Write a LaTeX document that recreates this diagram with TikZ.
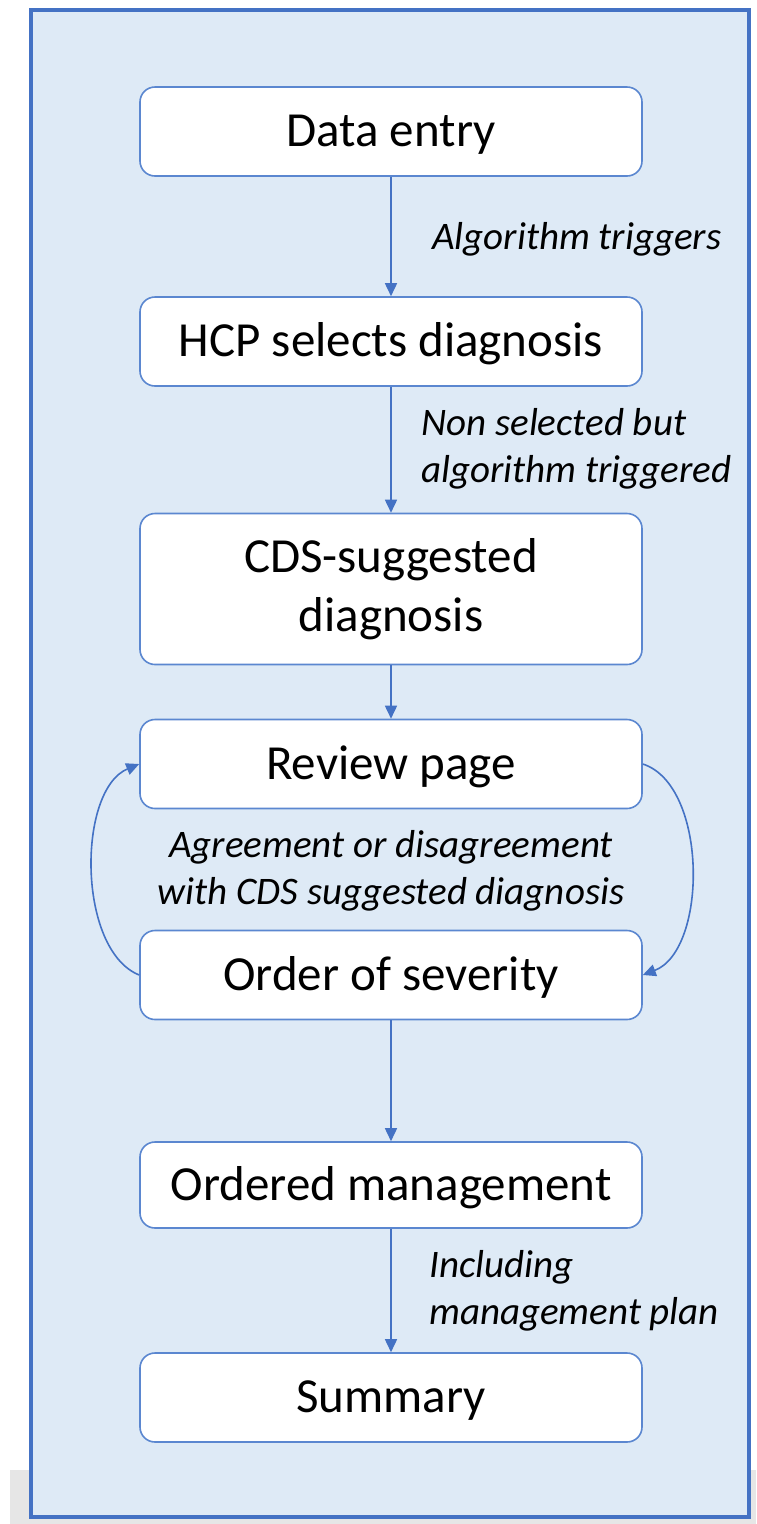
\documentclass[tikz,border=0pt]{standalone}
\usepackage{fontspec}
\setmainfont{Carlito}
\usetikzlibrary{arrows.meta}
\definecolor{frameblue}{HTML}{4472C4}
\definecolor{boxblue}{HTML}{5B87D0}
\definecolor{panelfill}{HTML}{DEEAF6}
\definecolor{shadegray}{HTML}{E6E6E6}
\begin{document}
\begin{tikzpicture}[
    x=1pt, y=-1pt,
    every node/.style={inner sep=0pt},
    stagebox/.style={draw=boxblue, line width=1.6pt, fill=white, rounded corners=15pt,
        minimum width=502pt, minimum height=89pt, align=center,
        font=\fontsize{49}{59}\selectfont},
    stageline/.style={stagebox, text height=38pt, text depth=8pt},
    flowlabel/.style={font=\fontsize{39}{47}\selectfont\itshape, align=left},
    flowarrow/.style={draw=frameblue, line width=1.6pt, -{Triangle[length=13pt, width=12pt]}},
]
\useasboundingbox (0,0) rectangle (756,1524);

% Background and panel
\fill[shadegray] (10,1470) rectangle (756,1524);
\filldraw[fill=panelfill, draw=frameblue, line width=4pt] (31,10) rectangle (749,1516.5);

% Stages
\node[stageline] (dataentry) at (391,131.5) {Data entry};
\node[stageline] (hcp) at (391,341.5) {HCP selects diagnosis};
\node[stagebox, minimum height=151pt] (cds) at (391,589) {CDS-suggested\\diagnosis};
\node[stageline] (review) at (391,764) {Review page};
\node[stageline] (severity) at (391,975) {Order of severity};
\node[stageline, minimum height=86pt] (management) at (391,1185) {Ordered management};
\node[stageline] (summary) at (391,1397.5) {Summary};

% Edge labels
\node[flowlabel, anchor=west] (triggerlbl) at (432,239) {Algorithm triggers};
\node[flowlabel, anchor=west] (nonsellbl) at (421,449) {Non selected but\\algorithm triggered};
\node[flowlabel, align=center] (agreelbl) at (391,871) {Agreement or disagreement\\with CDS suggested diagnosis};
\node[flowlabel, anchor=west] (planlbl) at (429,1291) {Including\\management plan};

% Straight connectors
\draw[flowarrow] (dataentry) -- (hcp);
\draw[flowarrow] (hcp) -- (cds);
\draw[flowarrow] (cds) -- (review);
\draw[flowarrow] (severity) -- (management);
\draw[flowarrow] (management) -- (summary);

% Loop between review and severity
\draw[flowarrow] (severity.west) .. controls (77,950) and (77,790) .. (review.west);
\draw[flowarrow] (review.east) .. controls (708,785) and (708,950) .. (severity.east);

\end{tikzpicture}
\end{document}
